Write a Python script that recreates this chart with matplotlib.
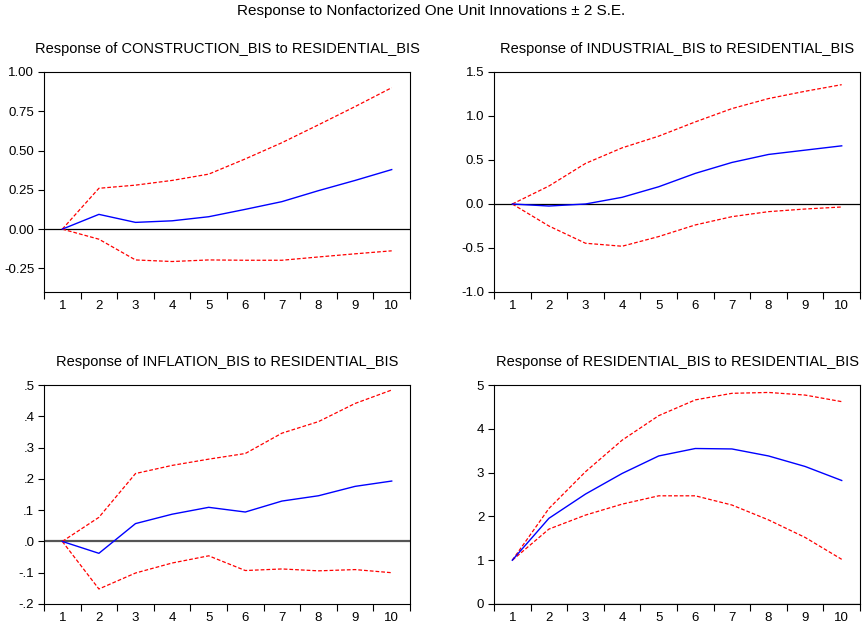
import numpy as np
import matplotlib
matplotlib.use("Agg")
import matplotlib.pyplot as plt
from matplotlib.ticker import FixedLocator, FuncFormatter

plt.rcParams["font.family"] = ["Liberation Sans", "DejaVu Sans"]

# ---- data ----
periods = [1, 2, 3, 4, 5, 6, 7, 8, 9, 10]

constr_resp = [0.0, 0.094, 0.043, 0.053, 0.079, 0.126, 0.175, 0.245, 0.31, 0.379]
constr_up = [0.0, 0.26, 0.28, 0.31, 0.35, 0.447, 0.55, 0.664, 0.78, 0.90]
constr_lo = [0.0, -0.064, -0.196, -0.206, -0.196, -0.198, -0.198, -0.177, -0.157, -0.138]

indus_resp = [0.0, -0.023, 0.0, 0.076, 0.196, 0.348, 0.472, 0.563, 0.612, 0.661]
indus_up = [0.0, 0.204, 0.461, 0.638, 0.771, 0.933, 1.084, 1.198, 1.281, 1.356]
indus_lo = [0.0, -0.25, -0.446, -0.48, -0.37, -0.238, -0.144, -0.087, -0.057, -0.034]

infl_resp = [0.0, -0.038, 0.057, 0.087, 0.109, 0.094, 0.129, 0.146, 0.176, 0.193]
infl_up = [0.0, 0.077, 0.217, 0.243, 0.263, 0.281, 0.346, 0.383, 0.441, 0.484]
infl_lo = [0.0, -0.152, -0.101, -0.069, -0.046, -0.093, -0.088, -0.094, -0.09, -0.1]

resid_resp = [1.0, 1.956, 2.51, 2.98, 3.38, 3.55, 3.54, 3.38, 3.14, 2.82]
resid_up = [1.0, 2.18, 3.02, 3.74, 4.30, 4.66, 4.81, 4.83, 4.77, 4.62]
resid_lo = [1.0, 1.71, 2.03, 2.28, 2.47, 2.47, 2.26, 1.92, 1.52, 1.02]

titles = [
    "Response of CONSTRUCTION_BIS to RESIDENTIAL_BIS",
    "Response of INDUSTRIAL_BIS to RESIDENTIAL_BIS",
    "Response of INFLATION_BIS to RESIDENTIAL_BIS",
    "Response of RESIDENTIAL_BIS to RESIDENTIAL_BIS",
]
yticks = [
    [-0.25, 0.0, 0.25, 0.5, 0.75, 1.0],
    [-1.0, -0.5, 0.0, 0.5, 1.0, 1.5],
    [-0.2, -0.1, 0.0, 0.1, 0.2, 0.3, 0.4, 0.5],
    [0, 1, 2, 3, 4, 5],
]
ylims = [(-0.4, 1.0), (-1.0, 1.5), (-0.2, 0.5), (0, 5)]
fmts = ["{:.2f}", "{:.1f}", "dot", "{:.0f}"]

series = [
    (constr_resp, constr_up, constr_lo),
    (indus_resp, indus_up, indus_lo),
    (infl_resp, infl_up, infl_lo),
    (resid_resp, resid_up, resid_lo),
]

# axes positions in pixels: left, top, right, bottom
boxes = [(44, 72, 410, 292), (494, 72, 860, 292),
         (44, 385, 410, 604), (494, 385, 860, 604)]
W, H = 863, 623

fig = plt.figure(figsize=(W / 100, H / 100), dpi=100)


def dot_fmt(v, pos):
    s = "{:.1f}".format(v)
    if s.startswith("-0"):
        return "-" + s[2:]
    if s.startswith("0"):
        return s[1:]
    return s


for i in range(4):
    l, t, r, b = boxes[i]
    ax = fig.add_axes([l / W, 1 - b / H, (r - l) / W, (b - t) / H])
    resp, up, lo = series[i]

    ax.axhline(0, color="#555555" if i == 2 else "black", lw=1.6 if i == 2 else 0.9)
    ax.plot(periods, up, color="red", lw=0.9, dashes=(3, 1.6))
    ax.plot(periods, lo, color="red", lw=0.9, dashes=(3, 1.6))
    ax.plot(periods, resp, color="blue", lw=1.0)

    ax.set_xlim(0.5, 10.5)
    ax.set_ylim(*ylims[i])
    ax.set_yticks(yticks[i])
    if fmts[i] == "dot":
        ax.yaxis.set_major_formatter(FuncFormatter(dot_fmt))
    else:
        f = fmts[i]
        ax.yaxis.set_major_formatter(FuncFormatter(lambda v, p, f=f: f.format(v)))

    ax.set_xticks(periods)
    ax.xaxis.set_minor_locator(FixedLocator(np.arange(0.5, 11, 1.0)))
    ax.tick_params(axis="x", which="major", length=0, pad=6, labelsize=9.5)
    ax.tick_params(axis="x", which="minor", length=5, width=0.8, direction="out")
    ax.tick_params(axis="y", which="major", length=4, width=0.8, direction="out",
                   pad=3, labelsize=9.5)
    for sp in ax.spines.values():
        sp.set_linewidth(0.8)

    ax.set_title(titles[i], fontsize=10.5, pad=14)

fig.text(0.5, 1 - 11 / H, "Response to Nonfactorized One Unit Innovations \u00b1 2 S.E.",
         ha="center", va="center", fontsize=11)

fig.savefig("out.png", dpi=100)
